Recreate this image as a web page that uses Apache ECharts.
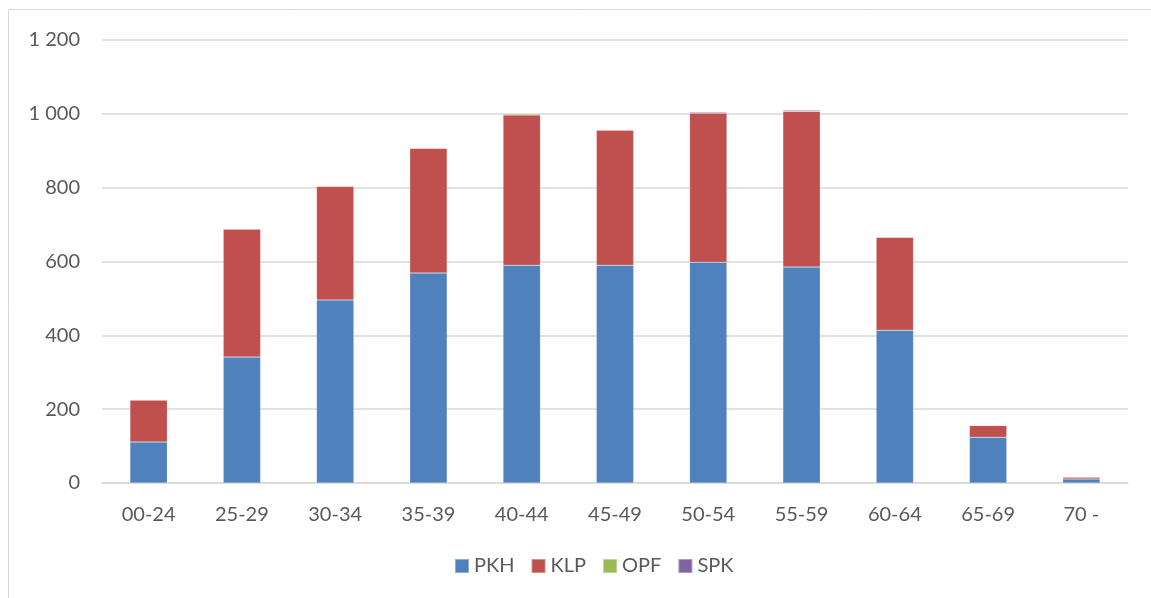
<!DOCTYPE html>
<html><head><meta charset="utf-8">
<script src="https://cdn.jsdelivr.net/npm/echarts@6/dist/echarts.min.js"></script>
<style>html,body{margin:0;padding:0;background:#fff}#c{width:1151px;height:598px}</style>
</head><body><div id="c"></div>
<script>
const categories = ['00-24','25-29','30-34','35-39','40-44','45-49','50-54','55-59','60-64','65-69','70 -'];
const PKH = [111, 341, 496, 569, 590, 590, 598, 585, 414, 124, 11];
const KLP = [114, 347, 308, 338, 407, 366, 404, 422, 252, 32, 5];
const OPF = [0, 0, 0, 0, 3, 0, 0, 0, 0, 0, 0];
const SPK = [0, 0, 0, 0, 0, 0, 3, 3, 0, 0, 0];
const yTicks = [0, 200, 400, 600, 800, 1000, 1200];

const font = 'Lato, "Liberation Sans", sans-serif';
const mk = (name, data, color) => ({
  name, type: 'bar', stack: 'total', data, barWidth: '40%',
  itemStyle: { color, borderColor: 'rgba(255,255,255,0.35)', borderWidth: 0.5 }
});
const chart = echarts.init(document.getElementById('c'));
chart.setOption({
  animation: false,
  textStyle: { fontFamily: font },
  grid: { left: 102, right: 23, top: 40, bottom: 115 },
  graphic: [{ type: 'rect', shape: { x: 8.5, y: 9.5, width: 1160, height: 600 },
    style: { fill: 'none', stroke: '#d9d9d9', lineWidth: 1 }, silent: true }],
  legend: {
    bottom: 17, left: 449, itemWidth: 14, itemHeight: 14, itemGap: 16, icon: 'rect',
    textStyle: { fontFamily: font, fontSize: 20, color: '#595959' },
    data: ['PKH', 'KLP', 'OPF', 'SPK']
  },
  xAxis: {
    type: 'category', data: categories,
    axisLine: { lineStyle: { color: '#d9d9d9', width: 1.5 } },
    axisTick: { show: false },
    axisLabel: { color: '#595959', fontSize: 20, margin: 22, fontFamily: font }
  },
  yAxis: {
    type: 'value', min: yTicks[0], max: yTicks[yTicks.length - 1], interval: 200,
    axisLine: { show: false }, axisTick: { show: false },
    splitLine: { lineStyle: { color: '#d9d9d9', width: 1.5 } },
    axisLabel: { color: '#595959', fontSize: 20, margin: 22, fontFamily: font,
      formatter: v => String(v).replace(/\B(?=(\d{3})+(?!\d))/g, ' ') }
  },
  series: [
    mk('PKH', PKH, '#4F81BD'),
    mk('KLP', KLP, '#C0504D'),
    mk('OPF', OPF, '#9BBB59'),
    mk('SPK', SPK, '#8064A2')
  ]
});
</script></body></html>
